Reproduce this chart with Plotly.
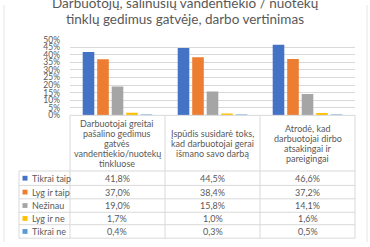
import plotly.graph_objects as go

W, H = 370, 247

title_lines = ["Darbuotojų, šalinusių vandentiekio / nuotekų",
               "tinklų gedimus gatvėje, darbo vertinimas"]
categories = [
    ["Darbuotojai greitai", "pašalino gedimus", "gatvės", "vandentiekio/nuotekų", "tinkluose"],
    ["Įspūdis susidarė toks,", "kad darbuotojai gerai", "išmano savo darbą"],
    ["Atrodė, kad", "darbuotojai dirbo", "atsakingai ir", "pareigingai"],
]
series_names = ["Tikrai taip", "Lyg ir taip", "Nežinau", "Lyg ir ne", "Tikrai ne"]
tikrai_taip = [41.8, 44.5, 46.6]
lyg_ir_taip = [37.0, 38.4, 37.2]
nezinau = [19.0, 15.8, 14.1]
lyg_ir_ne = [1.7, 1.0, 1.6]
tikrai_ne = [0.4, 0.3, 0.5]
series_values = [tikrai_taip, lyg_ir_taip, nezinau, lyg_ir_ne, tikrai_ne]
colors = ["#4472C4", "#ED7D31", "#A5A5A5", "#FFC000", "#5B9BD5"]
y_ticks = [0, 5, 10, 15, 20, 25, 30, 35, 40, 45, 50]
y_tick_labels = [f"{v}%" for v in y_ticks]

FONT = "Lato, 'Open Sans', sans-serif"
TXT = "#595959"
GRID = "#D9D9D9"

def px(x):
    return x / W

def py(y):
    return 1 - y / H

# layout geometry (pixels)
x_left, x_right = 70, 355
y_top, y_zero = 36, 115
col_edges = [70, 165, 260, 355]
legend_left = 19
header_bottom = 173
row_edges = [173, 188, 202, 216, 229, 243]

xcats = ["c0", "c1", "c2"]
fig = go.Figure()
for name, vals, c in zip(series_names, series_values, colors):
    fig.add_trace(go.Bar(x=xcats, y=vals, name=name, marker_color=c,
                         marker_line_width=0, showlegend=False))

shapes = []
line = dict(color=GRID, width=1)
# table horizontal lines
shapes.append(dict(type="line", xref="paper", yref="paper", x0=px(col_edges[0]), x1=px(col_edges[-1]),
                   y0=py(y_zero), y1=py(y_zero), line=line))
for r in row_edges:
    shapes.append(dict(type="line", xref="paper", yref="paper", x0=px(legend_left), x1=px(col_edges[-1]),
                       y0=py(r), y1=py(r), line=line))
# table vertical lines
for cx in col_edges:
    shapes.append(dict(type="line", xref="paper", yref="paper", x0=px(cx), x1=px(cx),
                       y0=py(y_zero), y1=py(row_edges[-1]), line=line))
shapes.append(dict(type="line", xref="paper", yref="paper", x0=px(legend_left), x1=px(legend_left),
                   y0=py(header_bottom), y1=py(row_edges[-1]), line=line))
# chart area border
for bx in (4, 367):
    shapes.append(dict(type="line", xref="paper", yref="paper", x0=px(bx), x1=px(bx),
                       y0=0, y1=1, line=dict(color="#E6E6E6", width=1)))

annotations = []
# title
for i, t in enumerate(title_lines):
    annotations.append(dict(text=t, xref="paper", yref="paper", x=px(185), y=py(-2 + 17 * i),
                            xanchor="center", yanchor="middle", showarrow=False,
                            font=dict(family=FONT, size=13.5, color=TXT)))
# header text
lh = 10.6
hc = (y_zero + header_bottom) / 2 + 0.5
for ci, lines in enumerate(categories):
    cx = (col_edges[ci] + col_edges[ci + 1]) / 2
    n = len(lines)
    for li, t in enumerate(lines):
        yy = hc + (li - (n - 1) / 2) * lh
        annotations.append(dict(text=t, xref="paper", yref="paper", x=px(cx), y=py(yy),
                                xanchor="center", yanchor="middle", showarrow=False,
                                font=dict(family=FONT, size=9, color=TXT)))
# rows
for ri, (name, vals, c) in enumerate(zip(series_names, series_values, colors)):
    yc = (row_edges[ri] + row_edges[ri + 1]) / 2
    shapes.append(dict(type="rect", xref="paper", yref="paper", x0=px(22.5), x1=px(27.5),
                       y0=py(yc + 2.5), y1=py(yc - 2.5), fillcolor=c, line=dict(width=0)))
    annotations.append(dict(text=name, xref="paper", yref="paper", x=px(29.5), y=py(yc),
                            xanchor="left", yanchor="middle", showarrow=False,
                            font=dict(family=FONT, size=9, color=TXT)))
    for ci, v in enumerate(vals):
        cx = (col_edges[ci] + col_edges[ci + 1]) / 2
        txt = f"{v:.1f}".replace(".", ",") + "%"
        annotations.append(dict(text=txt, xref="paper", yref="paper", x=px(cx), y=py(yc),
                                xanchor="center", yanchor="middle", showarrow=False,
                                font=dict(family=FONT, size=9, color=TXT)))

fig.update_layout(
    width=W, height=H,
    margin=dict(l=0, r=0, t=0, b=0),
    paper_bgcolor="white", plot_bgcolor="white",
    barmode="group", bargap=0.237, bargroupgap=0.2,
    xaxis=dict(domain=[px(x_left), px(x_right)], showticklabels=False, showgrid=False,
               zeroline=False, showline=False, ticks=""),
    yaxis=dict(domain=[py(y_zero), py(y_top)], range=[0, 50], tickmode="array",
               tickvals=y_ticks, ticktext=y_tick_labels,
               showgrid=True, gridcolor=GRID, gridwidth=1,
               zeroline=False, showline=False, ticks="", ticklabelstandoff=9,
               tickfont=dict(family=FONT, size=8.5, color=TXT)),
    shapes=shapes,
    annotations=annotations,
)

fig.write_html("out.html")
